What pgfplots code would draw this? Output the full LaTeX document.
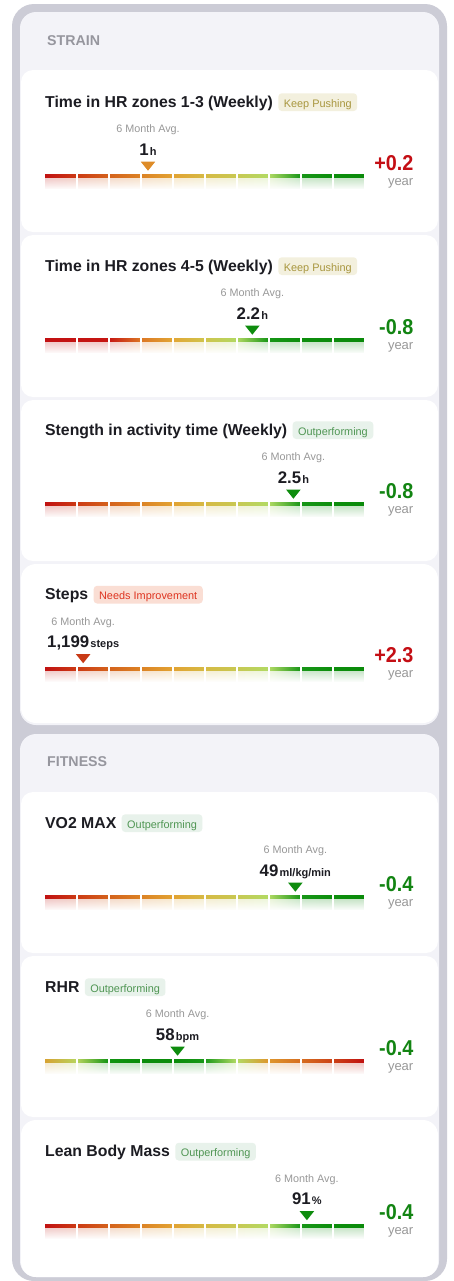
\documentclass[border=0pt]{standalone}
\usepackage{fontspec}
\setmainfont{Liberation Sans}
\newfontfamily\condfont[FakeStretch=0.92]{Liberation Sans}
\usepackage{pgfplots}
\pgfplotsset{compat=1.18}
\usepackage{pgfplotstable}
\usepgfplotslibrary{patchplots}
\usetikzlibrary{fadings}

\definecolor{framegray}{RGB}{204,204,214}
\definecolor{panel}{RGB}{243,243,248}
\definecolor{titlec}{RGB}{28,28,34}
\definecolor{hdr}{RGB}{150,150,158}
\definecolor{subg}{RGB}{152,152,152}
\definecolor{upred}{RGB}{196,14,20}
\definecolor{dngreen}{RGB}{18,132,18}
\definecolor{kpbg}{RGB}{243,240,222}
\definecolor{kptx}{RGB}{168,150,62}
\definecolor{opbg}{RGB}{232,242,235}
\definecolor{optx}{RGB}{80,150,84}
\definecolor{nibg}{RGB}{250,222,212}
\definecolor{nitx}{RGB}{222,52,32}
\definecolor{mkorange}{RGB}{222,140,40}
\definecolor{mkred}{RGB}{200,58,22}
\definecolor{mkgreen}{RGB}{14,140,14}

\tikzfading[name=fadedown, top color=transparent!100, bottom color=transparent!0]

\pgfdeclareplotmark{dtri}{%
  \pgfpathmoveto{\pgfpoint{0bp}{0bp}}%
  \pgfpathlineto{\pgfpoint{-7.2bp}{9bp}}%
  \pgfpathlineto{\pgfpoint{7.2bp}{9bp}}%
  \pgfpathclose\pgfusepathqfill}

\pgfplotsset{
  colormap={std}{rgb255(0cm)=(192,16,18) rgb255(1cm)=(204,58,20) rgb255(2cm)=(212,98,28) rgb255(3cm)=(220,130,36) rgb255(4cm)=(226,162,50) rgb255(5cm)=(214,186,68) rgb255(6cm)=(200,200,82) rgb255(7cm)=(178,218,100) rgb255(8cm)=(24,150,24) rgb255(9cm)=(12,142,12) rgb255(10cm)=(10,138,10)},
  colormap={hrhigh}{rgb255(0cm)=(194,16,18) rgb255(2cm)=(198,22,18) rgb255(3cm)=(220,118,36) rgb255(4cm)=(226,166,52) rgb255(5cm)=(208,196,76) rgb255(6cm)=(178,216,98) rgb255(7cm)=(22,150,22) rgb255(8cm)=(12,142,12) rgb255(10cm)=(10,138,10)},
  colormap={rhr}{rgb255(0cm)=(216,160,48) rgb255(1cm)=(184,212,94) rgb255(2cm)=(18,148,18) rgb255(3cm)=(10,140,10) rgb255(4cm)=(10,140,10) rgb255(5cm)=(24,152,24) rgb255(6cm)=(178,218,100) rgb255(7cm)=(222,150,44) rgb255(8cm)=(214,110,32) rgb255(9cm)=(204,66,22) rgb255(10cm)=(192,14,16)},
  gauge/.style={hide axis, scale only axis, width=321bp, height=32bp,
    xmin=0, xmax=10, ymin=-16, ymax=16, clip=false, anchor=south west,
    point meta min=0, point meta max=10},
}

% gauge segments: x, bar y, reflection y
\pgfplotstableread{
x yb yr
0.045 -1.65 -12.5
0.955 -1.65 -12.5
0.955 1.65 -2.3
0.045 1.65 -2.3
1.045 -1.65 -12.5
1.955 -1.65 -12.5
1.955 1.65 -2.3
1.045 1.65 -2.3
2.045 -1.65 -12.5
2.955 -1.65 -12.5
2.955 1.65 -2.3
2.045 1.65 -2.3
3.045 -1.65 -12.5
3.955 -1.65 -12.5
3.955 1.65 -2.3
3.045 1.65 -2.3
4.045 -1.65 -12.5
4.955 -1.65 -12.5
4.955 1.65 -2.3
4.045 1.65 -2.3
5.045 -1.65 -12.5
5.955 -1.65 -12.5
5.955 1.65 -2.3
5.045 1.65 -2.3
6.045 -1.65 -12.5
6.955 -1.65 -12.5
6.955 1.65 -2.3
6.045 1.65 -2.3
7.045 -1.65 -12.5
7.955 -1.65 -12.5
7.955 1.65 -2.3
7.045 1.65 -2.3
8.045 -1.65 -12.5
8.955 -1.65 -12.5
8.955 1.65 -2.3
8.045 1.65 -2.3
9.045 -1.65 -12.5
9.955 -1.65 -12.5
9.955 1.65 -2.3
9.045 1.65 -2.3
}\segs

\newcommand\gaugebars{%
  \addplot[patch, patch type=rectangle, shader=interp, point meta=x, opacity=0.22] table[x=x,y=yr]{\segs};
  \fill[white, path fading=fadedown] (axis cs:-0.1,-2.3) rectangle (axis cs:10.1,-13.5);
  \addplot[patch, patch type=rectangle, shader=interp, point meta=x] table[x=x,y=yb]{\segs};
}
\newcommand\gaugelabel[3]{%
  \node[anchor=base, inner sep=0, text=subg, font=\fontsize{10.8bp}{12bp}\selectfont] at (axis cs:#1,43.5) {6 Month Avg.};
  \node[anchor=base, inner sep=0, text=titlec, font=\bfseries] at (axis cs:#1,21) {\fontsize{16.8bp}{18bp}\selectfont #2\hspace{1.2bp}\fontsize{11bp}{12bp}\selectfont #3};
}

\tikzset{
  ttl/.style={anchor=base west, inner sep=0, text=titlec, font=\bfseries\fontsize{15.8bp}{18bp}\selectfont},
  badge/.style={anchor=base west, rounded corners=3.5bp, inner xsep=5.5bp, inner ysep=4bp, text height=9.7bp, text depth=0bp, font=\fontsize{10.9bp}{12bp}\selectfont},
  big/.style={anchor=base east, inner sep=0, font=\condfont\bfseries\fontsize{21.5bp}{24bp}\selectfont},
  yr/.style={anchor=base east, inner sep=0, text=subg, font=\fontsize{13bp}{14bp}\selectfont},
  hd/.style={anchor=base west, inner sep=0, text=hdr, font=\bfseries\fontsize{14.2bp}{16bp}\selectfont},
}

\begin{document}
\begin{tikzpicture}
\begin{scope}[x=1bp,y=-1bp]
  \useasboundingbox (0,0) rectangle (454,1281);
  \fill[white] (0,0) rectangle (454,1281);
  \fill[framegray, rounded corners=22bp] (12,4) rectangle (447,1281);
  \fill[panel, rounded corners=16bp] (20,12) rectangle (439,725);
  \fill[panel, rounded corners=16bp] (20,734) rectangle (439,1277);
  \fill[white, rounded corners=12bp] (21,70) rectangle (438,232);
  \fill[white, rounded corners=12bp] (21,235) rectangle (438,397);
  \fill[white, rounded corners=12bp] (21,400) rectangle (438,561);
  \fill[white, rounded corners=15bp] (21,564) rectangle (438,723);
  \fill[white, rounded corners=12bp] (21,792) rectangle (438,953);
  \fill[white, rounded corners=12bp] (21,956) rectangle (438,1117);
  \fill[white, rounded corners=15bp] (21,1120) rectangle (438,1277);
\end{scope}

% Card 1: Time in HR zones 1-3
\begin{axis}[gauge, at={(44bp,-192bp)}, colormap name=std]
  \gaugebars
  \addplot[only marks, mark=dtri, mkorange] coordinates {(3.24,5.3)};
  \gaugelabel{3.24}{1}{h}
\end{axis}
% Card 2: Time in HR zones 4-5
\begin{axis}[gauge, at={(44bp,-356bp)}, colormap name=hrhigh]
  \gaugebars
  \addplot[only marks, mark=dtri, mkgreen] coordinates {(6.49,5.3)};
  \gaugelabel{6.49}{2.2}{h}
\end{axis}
% Card 3: Strength
\begin{axis}[gauge, at={(44bp,-520bp)}, colormap name=std]
  \gaugebars
  \addplot[only marks, mark=dtri, mkgreen] coordinates {(7.77,5.3)};
  \gaugelabel{7.77}{2.5}{h}
\end{axis}
% Card 4: Steps
\begin{axis}[gauge, at={(44bp,-684.5bp)}, colormap name=std]
  \gaugebars
  \addplot[only marks, mark=dtri, mkred] coordinates {(1.22,5.3)};
  \gaugelabel{1.22}{1,199}{steps}
\end{axis}
% VO2 MAX
\begin{axis}[gauge, at={(44bp,-913bp)}, colormap name=std]
  \gaugebars
  \addplot[only marks, mark=dtri, mkgreen] coordinates {(7.83,5.3)};
  \gaugelabel{7.83}{49}{ml/kg/min}
\end{axis}
% RHR
\begin{axis}[gauge, at={(44bp,-1077bp)}, colormap name=rhr]
  \gaugebars
  \addplot[only marks, mark=dtri, mkgreen] coordinates {(4.16,5.3)};
  \gaugelabel{4.16}{58}{bpm}
\end{axis}
% Lean Body Mass
\begin{axis}[gauge, at={(44bp,-1241.5bp)}, colormap name=std]
  \gaugebars
  \addplot[only marks, mark=dtri, mkgreen] coordinates {(8.19,5.3)};
  \gaugelabel{8.19}{91}{\%}
\end{axis}

\begin{scope}[x=1bp,y=-1bp]
  \node[hd] at (47,45.7) {STRAIN};
  \node[hd] at (47,766.7) {FITNESS};

  \node[ttl] (t1) at (45,107) {Time in HR zones 1-3 (Weekly)};
  \node[badge, fill=kpbg, text=kptx] at ([xshift=5bp]t1.base east) {Keep Pushing};
  \node[big, text=upred] at (413.5,170) {+0.2};
  \node[yr] at (413.5,185.3) {year};

  \node[ttl] (t2) at (45,271) {Time in HR zones 4-5 (Weekly)};
  \node[badge, fill=kpbg, text=kptx] at ([xshift=5bp]t2.base east) {Keep Pushing};
  \node[big, text=dngreen] at (413.5,334) {-0.8};
  \node[yr] at (413.5,349.3) {year};

  \node[ttl] (t3) at (45,435) {Stength in activity time (Weekly)};
  \node[badge, fill=opbg, text=optx] at ([xshift=5bp]t3.base east) {Outperforming};
  \node[big, text=dngreen] at (413.5,498) {-0.8};
  \node[yr] at (413.5,513.3) {year};

  \node[ttl] (t4) at (45,599.5) {Steps};
  \node[badge, fill=nibg, text=nitx] at ([xshift=5bp]t4.base east) {Needs Improvement};
  \node[big, text=upred] at (413.5,662.5) {+2.3};
  \node[yr] at (413.5,677.8) {year};

  \node[ttl] (t5) at (45,828) {VO2 MAX};
  \node[badge, fill=opbg, text=optx] at ([xshift=5bp]t5.base east) {Outperforming};
  \node[big, text=dngreen] at (413.5,891) {-0.4};
  \node[yr] at (413.5,906.3) {year};

  \node[ttl] (t6) at (45,992) {RHR};
  \node[badge, fill=opbg, text=optx] at ([xshift=5bp]t6.base east) {Outperforming};
  \node[big, text=dngreen] at (413.5,1055) {-0.4};
  \node[yr] at (413.5,1070.3) {year};

  \node[ttl] (t7) at (45,1156.5) {Lean Body Mass};
  \node[badge, fill=opbg, text=optx] at ([xshift=5bp]t7.base east) {Outperforming};
  \node[big, text=dngreen] at (413.5,1219.5) {-0.4};
  \node[yr] at (413.5,1234.8) {year};
\end{scope}
\end{tikzpicture}
\end{document}
